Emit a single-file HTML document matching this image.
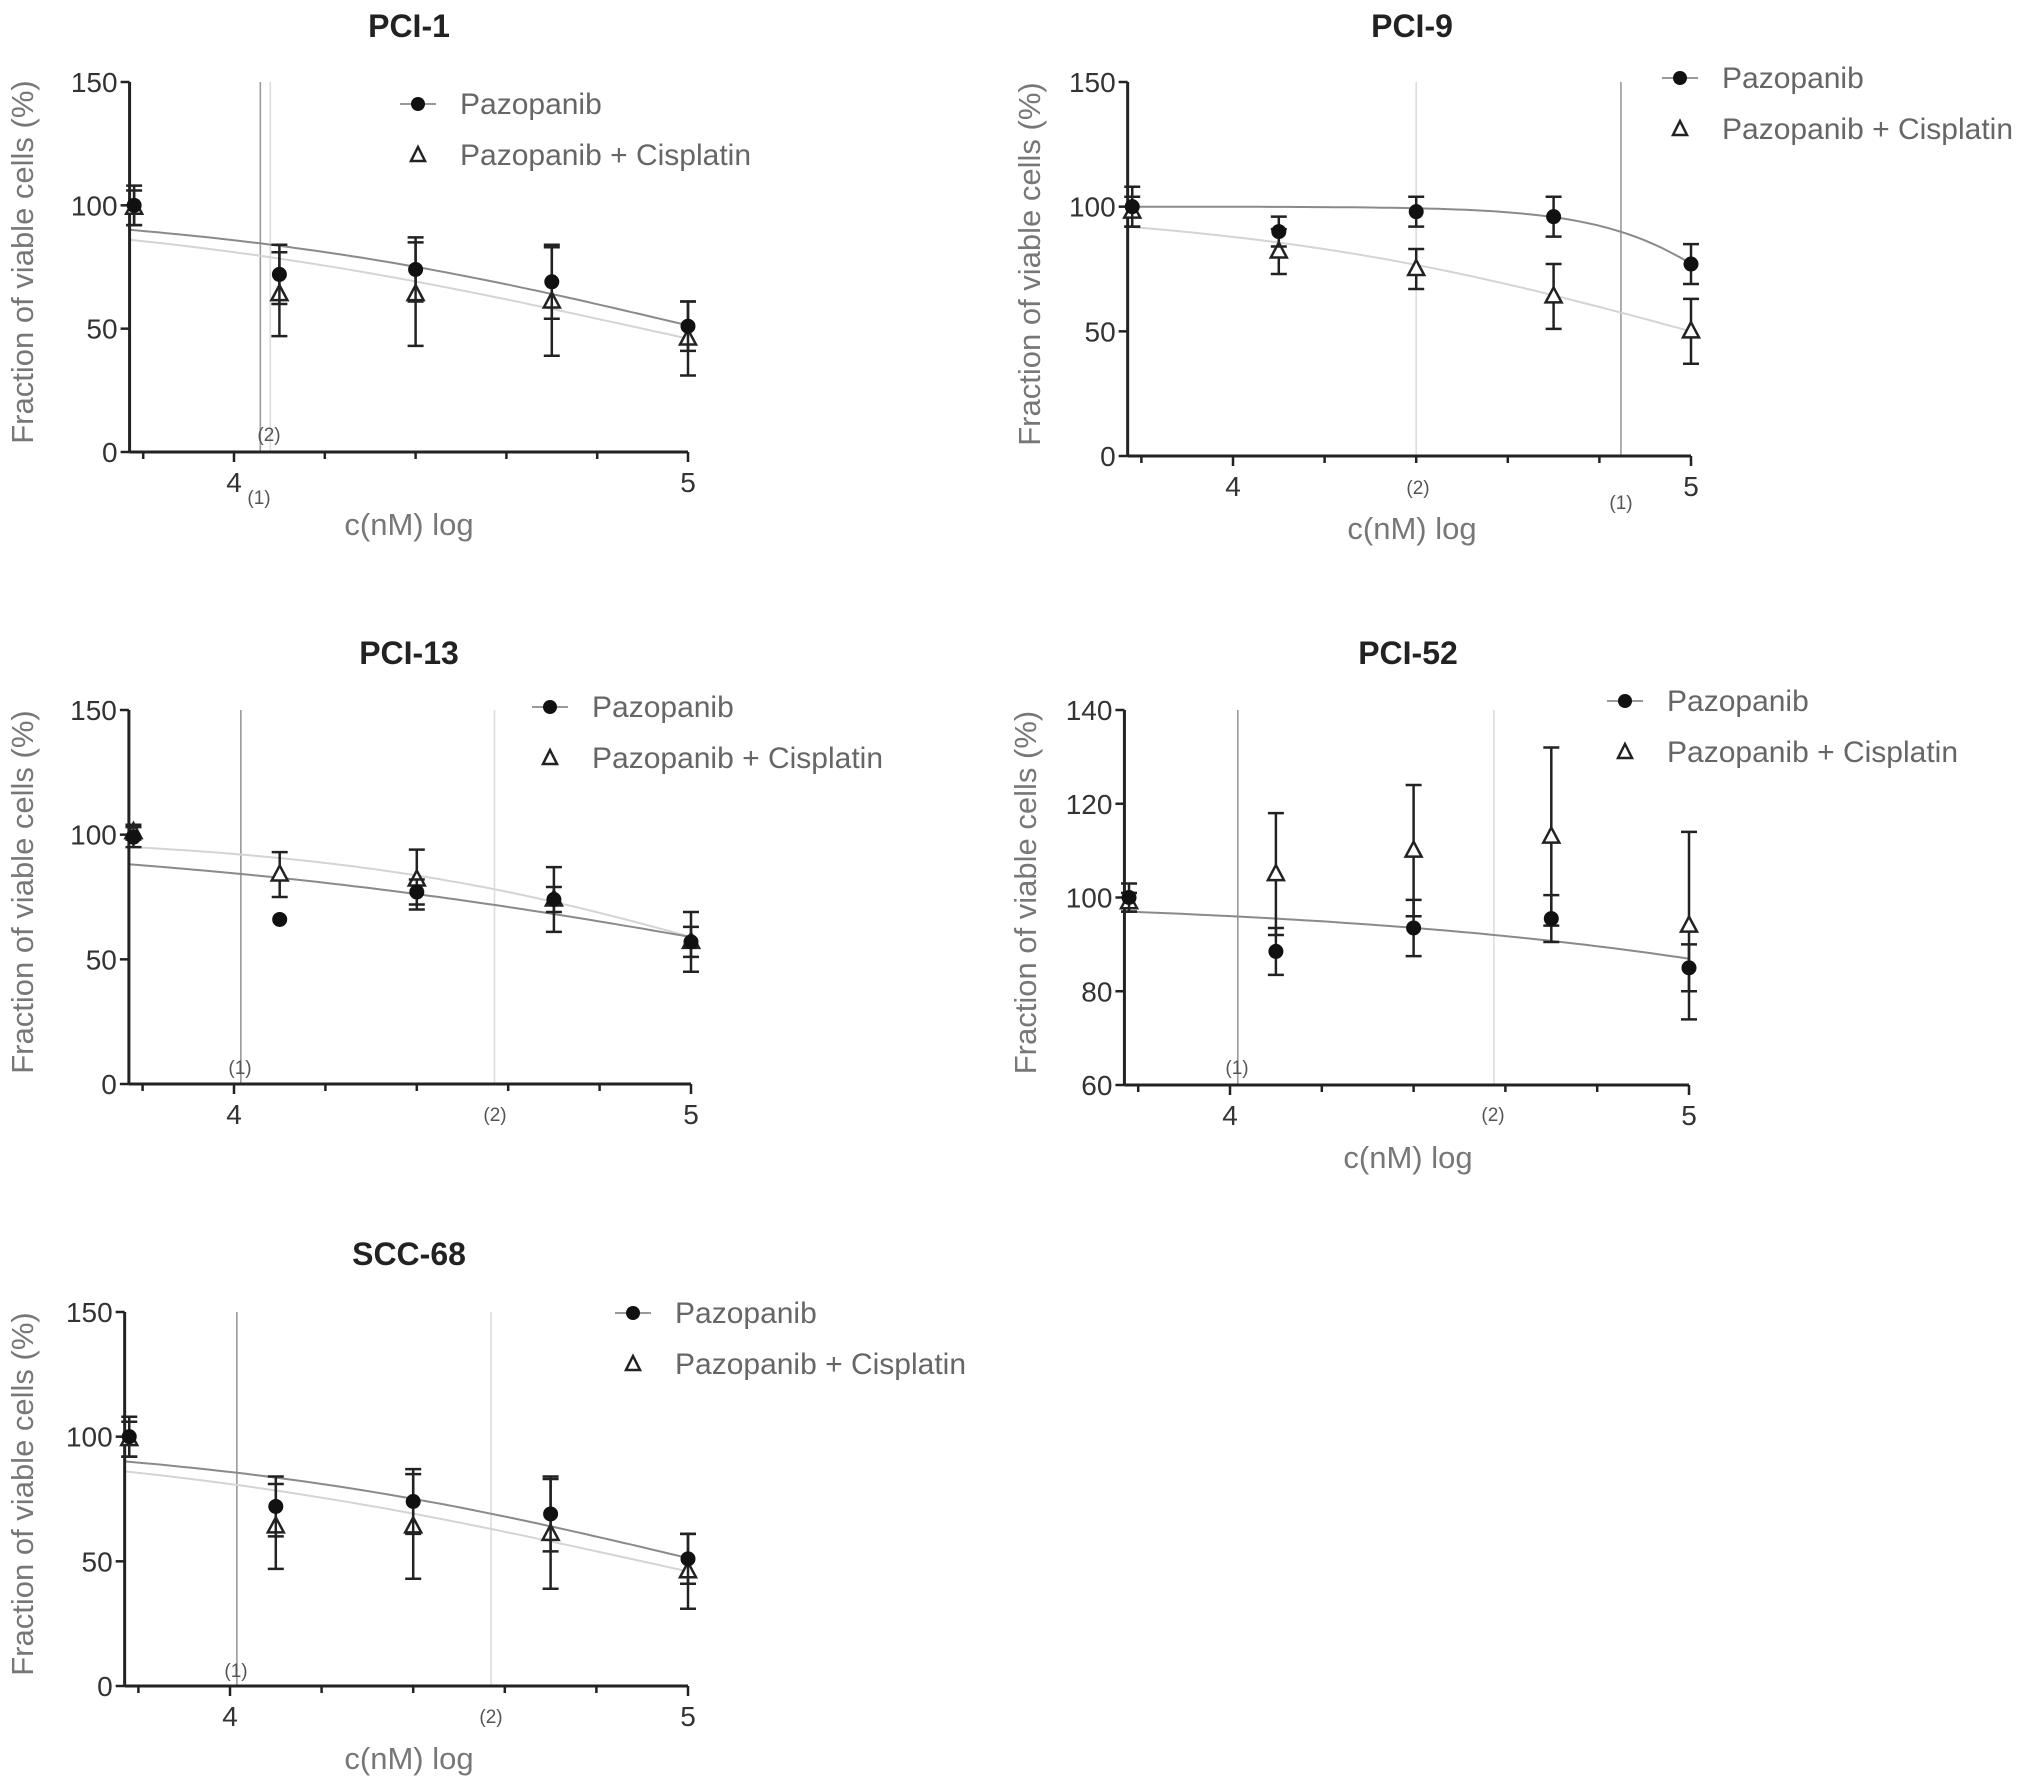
<!DOCTYPE html>
<html><head><meta charset="utf-8">
<style>
html,body{margin:0;padding:0;background:#fff;}
svg{display:block;font-family:"Liberation Sans",Arial,sans-serif;}
</style></head>
<body>
<svg id="chart" width="2031" height="1787" viewBox="0 0 2031 1787" xmlns="http://www.w3.org/2000/svg"></svg>
<script>
// shared x positions (log concentration)
const doses = [3.78, 4.1, 4.4, 4.7, 5.0];
const xTickLabels = ["4", "5"];

// PCI-1
const pci1Pazo = [100, 72, 74, 69, 51];
const pci1PazoErr = [8, 12, 13, 15, 10];
const pci1Combo = [99, 64, 64, 61, 46];
const pci1ComboErr = [7, 17, 21, 22, 15];
const pci1PazoFit = [5.03, 0.76];
const pci1ComboFit = [4.9, 0.70];
const pci1Markers = [4.058, 4.08];

// PCI-9
const pci9Pazo = [100, 90, 98, 96, 77];
const pci9PazoErr = [8, 6, 6, 8, 8];
const pci9Combo = [98, 82, 75, 64, 50];
const pci9ComboErr = [6, 9, 8, 13, 13];
const pci9PazoFit = [5.19, 2.77];
const pci9ComboFit = [5.0, 0.86];
const pci9Markers = [4.847, 4.40];

// PCI-13
const pci13Pazo = [99, 66, 77, 74, 57];
const pci13PazoErr = [4, 0, 5, 5, 6];
const pci13Combo = [101, 84, 82, 74, 57];
const pci13ComboErr = [3, 9, 12, 13, 12];
const pci13PazoFit = [5.27, 0.58];
const pci13ComboFit = [5.17, 0.92];
const pci13Markers = [4.015, 4.57];

// PCI-52
const pci52Pazo = [100, 88.5, 93.5, 95.5, 85];
const pci52PazoErr = [3, 5, 6, 5, 5];
const pci52Combo = [99, 105, 110, 113, 94];
const pci52ComboErr = [2, 13, 14, 19, 20];
const pci52PazoFit = [6.47, 0.56];
const pci52Markers = [4.017, 4.575];

// SCC-68
const scc68Pazo = [100, 72, 74, 69, 51];
const scc68PazoErr = [8, 12, 13, 15, 10];
const scc68Combo = [99, 64, 64, 61, 46];
const scc68ComboErr = [7, 17, 21, 22, 15];
const scc68PazoFit = [5.03, 0.76];
const scc68ComboFit = [4.9, 0.70];
const scc68Markers = [4.015, 4.57];

const NS = "http://www.w3.org/2000/svg";
const svg = document.getElementById("chart");
function mk(tag, attrs, parent, text){
  const e = document.createElementNS(NS, tag);
  for (const k in attrs) e.setAttribute(k, attrs[k]);
  if (text !== undefined) e.textContent = text;
  (parent || svg).appendChild(e);
  return e;
}

function panel(cfg){
  const g = mk("g", {});
  
  
  const xmin = 3.77, xmax = 5.0;
  const sx = v => cfg.x4 + (v - 4) * (cfg.x5 - cfg.x4);
  const sy = v => cfg.y0 + (v - cfg.ymin) / (cfg.ymax - cfg.ymin) * (cfg.yTop - cfg.y0);
  const left = sx(xmin), right = sx(xmax);

  const t = mk("text", {x: cfg.titleX, y: cfg.titleY, "text-anchor": "middle", "font-size": 32, "font-weight": "bold", fill: "#222"}, g, cfg.title);
  
  

  const vcol = ["#999", "#ddd"];
  cfg.markers.forEach((m, i) => {
    const l = mk("line", {x1: sx(m), x2: sx(m), y1: cfg.yTop, y2: cfg.y0, stroke: vcol[i], "stroke-width": 1.6}, g);
    
    
  });
  cfg.markerLabels.forEach((lb, i) => {
    const tx = mk("text", {x: lb[0], y: lb[1], "text-anchor": "middle", "font-size": 19, fill: "#555"}, g, "(" + (i + 1) + ")");
    
    
  });

  function fitPath(p, col, name){
    let d = "";
    for (let k = 0; k <= 60; k++){
      const x = xmin + (xmax - xmin) * k / 60;
      const y = 100 / (1 + Math.pow(10, (x - p[0]) * p[1]));
      d += (k ? "L" : "M") + sx(x).toFixed(1) + " " + sy(y).toFixed(1);
    }
    const pth = mk("path", {d: d, fill: "none", stroke: col, "stroke-width": 2}, g);
    
    
  }
  if (cfg.comboFit) fitPath(cfg.comboFit, "#d4d4d4", "combo-fit-curve");
  if (cfg.pazoFit) fitPath(cfg.pazoFit, "#8a8a8a", "pazopanib-fit-curve");

  const ya = mk("line", {x1: left, x2: left, y1: cfg.yTop, y2: cfg.y0, stroke: "#222", "stroke-width": 3}, g);
  
  
  const xa = mk("line", {x1: left, x2: right, y1: cfg.y0, y2: cfg.y0, stroke: "#222", "stroke-width": 3}, g);
  
  
  cfg.yTicks.forEach(v => {
    mk("line", {x1: left - 9, x2: left, y1: sy(v), y2: sy(v), stroke: "#222", "stroke-width": 2.5}, g);
    const tl = mk("text", {x: left - 12, y: sy(v) + 10, "text-anchor": "end", "font-size": 28, fill: "#333"}, g, String(v));
    
    
  });
  [3.8, 4, 4.2, 4.4, 4.6, 4.8, 5].forEach(v => {
    const major = (v === 4 || v === 5);
    mk("line", {x1: sx(v), x2: sx(v), y1: cfg.y0, y2: cfg.y0 + (major ? 10 : 7), stroke: "#222", "stroke-width": 2.5}, g);
  });
  xTickLabels.forEach((s, i) => {
    const tl = mk("text", {x: sx(4 + i), y: cfg.y0 + 40, "text-anchor": "middle", "font-size": 28, fill: "#333"}, g, s);
    
    
  });
  if (cfg.xlabelY){
    const xl = mk("text", {x: cfg.titleX, y: cfg.xlabelY, "text-anchor": "middle", "font-size": 31, fill: "#777"}, g, "c(nM) log");
    
    
  }
  const ymid = (cfg.yTop + cfg.y0) / 2 - 5;
  const ylab = mk("text", {x: cfg.ylabX, y: ymid, "text-anchor": "middle", "font-size": 31, fill: "#777", transform: "rotate(-90 " + cfg.ylabX + " " + ymid + ")"}, g, "Fraction of viable cells (%)");
  
  

  function series(vals, errs, kind){
    vals.forEach((v, i) => {
      const x = sx(doses[i]);
      const e = errs[i];
      if (e > 0){
        const eb = mk("path", {d: "M" + x + " " + sy(v - e) + "V" + sy(v + e) + "M" + (x - 8) + " " + sy(v + e) + "h16M" + (x - 8) + " " + sy(v - e) + "h16", stroke: "#222", "stroke-width": 2.5, fill: "none"}, g);
        
        
      }
    });
    vals.forEach((v, i) => {
      const x = sx(doses[i]), y = sy(v);
      let m;
      if (kind === "pazopanib") m = mk("circle", {cx: x, cy: y, r: 7.5, fill: "#111"}, g);
      else m = mk("path", {d: "M" + x + " " + (y - 9) + "L" + (x + 8) + " " + (y + 6) + "L" + (x - 8) + " " + (y + 6) + "Z", fill: "#fff", stroke: "#222", "stroke-width": 2.5}, g);
      
      
    });
  }
  series(cfg.combo, cfg.comboErr, "combo");
  series(cfg.pazo, cfg.pazoErr, "pazopanib");

  const lg = mk("g", {}, g);
  
  
  mk("line", {x1: cfg.legX - 18, x2: cfg.legX + 18, y1: cfg.legY, y2: cfg.legY, stroke: "#999", "stroke-width": 2}, lg);
  mk("circle", {cx: cfg.legX, cy: cfg.legY, r: 7, fill: "#111"}, lg);
  const l1 = mk("text", {x: cfg.legX + 42, y: cfg.legY + 10, "font-size": 30, fill: "#666"}, lg, "Pazopanib");
  
  
  const y2 = cfg.legY + 51;
  mk("path", {d: "M" + cfg.legX + " " + (y2 - 8) + "L" + (cfg.legX + 7) + " " + (y2 + 6) + "L" + (cfg.legX - 7) + " " + (y2 + 6) + "Z", fill: "#fff", stroke: "#222", "stroke-width": 2.5}, lg);
  const l2 = mk("text", {x: cfg.legX + 42, y: y2 + 10, "font-size": 30, fill: "#666"}, lg, "Pazopanib + Cisplatin");
  
  
}

const t150 = [0, 50, 100, 150];
panel({id: "pci-1", title: "PCI-1", titleX: 409, titleY: 37, x4: 234, x5: 688, y0: 452, yTop: 82, ymin: 0, ymax: 150, yTicks: t150,
  pazo: pci1Pazo, pazoErr: pci1PazoErr, combo: pci1Combo, comboErr: pci1ComboErr, pazoFit: pci1PazoFit, comboFit: pci1ComboFit,
  markers: pci1Markers, markerLabels: [[259, 504], [269, 441]], legX: 418, legY: 104, xlabelY: 535, ylabX: 33});
panel({id: "pci-9", title: "PCI-9", titleX: 1412, titleY: 37, x4: 1233, x5: 1691, y0: 456, yTop: 82, ymin: 0, ymax: 150, yTicks: t150,
  pazo: pci9Pazo, pazoErr: pci9PazoErr, combo: pci9Combo, comboErr: pci9ComboErr, pazoFit: pci9PazoFit, comboFit: pci9ComboFit,
  markers: pci9Markers, markerLabels: [[1621, 509], [1418, 494]], legX: 1680, legY: 78, xlabelY: 539, ylabX: 1040});
panel({id: "pci-13", title: "PCI-13", titleX: 409, titleY: 664, x4: 234, x5: 691, y0: 1084, yTop: 710, ymin: 0, ymax: 150, yTicks: t150,
  pazo: pci13Pazo, pazoErr: pci13PazoErr, combo: pci13Combo, comboErr: pci13ComboErr, pazoFit: pci13PazoFit, comboFit: pci13ComboFit,
  markers: pci13Markers, markerLabels: [[240, 1074], [495, 1121]], legX: 550, legY: 707, xlabelY: null, ylabX: 33});
panel({id: "pci-52", title: "PCI-52", titleX: 1408, titleY: 664, x4: 1230, x5: 1689, y0: 1085, yTop: 710, ymin: 60, ymax: 140, yTicks: [60, 80, 100, 120, 140],
  pazo: pci52Pazo, pazoErr: pci52PazoErr, combo: pci52Combo, comboErr: pci52ComboErr, pazoFit: pci52PazoFit, comboFit: null,
  markers: pci52Markers, markerLabels: [[1237, 1074], [1493, 1121]], legX: 1625, legY: 701, xlabelY: 1168, ylabX: 1036});
panel({id: "scc-68", title: "SCC-68", titleX: 409, titleY: 1265, x4: 230, x5: 688, y0: 1686, yTop: 1312, ymin: 0, ymax: 150, yTicks: t150,
  pazo: scc68Pazo, pazoErr: scc68PazoErr, combo: scc68Combo, comboErr: scc68ComboErr, pazoFit: scc68PazoFit, comboFit: scc68ComboFit,
  markers: scc68Markers, markerLabels: [[236, 1677], [491, 1723]], legX: 633, legY: 1313, xlabelY: 1769, ylabX: 33});
</script>
</body></html>
